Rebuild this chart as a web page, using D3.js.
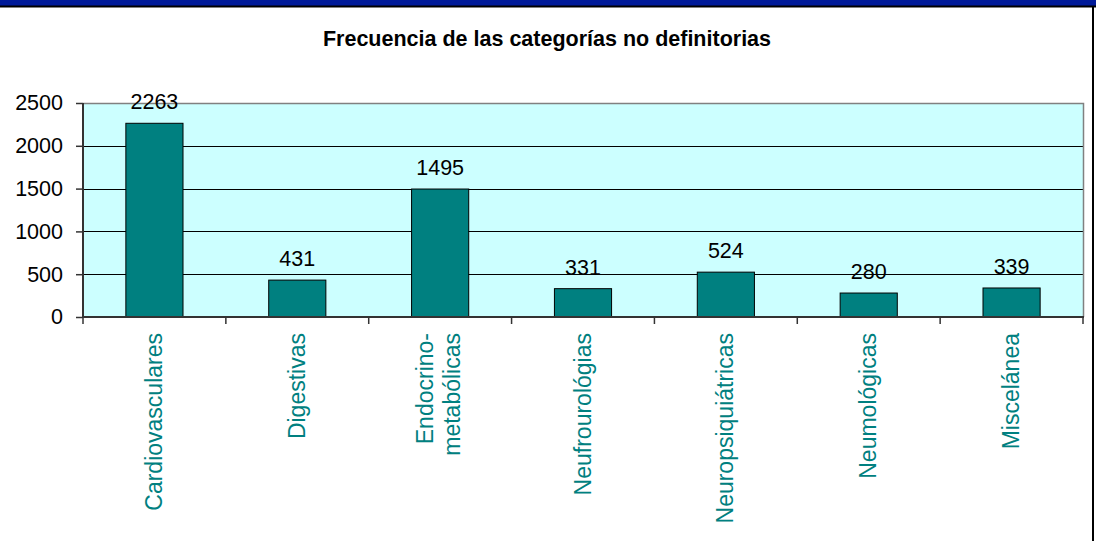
<!DOCTYPE html>
<html>
<head>
<meta charset="utf-8">
<script src="https://cdn.jsdelivr.net/npm/d3@7"></script>
<style>
  body { margin: 0; background: #fff; }
  svg { display: block; font-family: "Liberation Sans", Arial, sans-serif; }
</style>
</head>
<body>
<svg width="1096" height="541"></svg>
<script>
const categories = ["Cardiovasculares", "Digestivas", "Endocrino-\nmetabólicas", "Neufrourológias",
  "Neuropsiquiátricas", "Neumológicas", "Miscelánea"];
const values = [2263, 431, 1495, 331, 524, 280, 339];
const yTicks = [0, 500, 1000, 1500, 2000, 2500];
const title = "Frecuencia de las categorías no definitorias";

const svg = d3.select("svg");
const plot = { left: 83, right: 1083, top: 103, bottom: 317 };
const font = "'Liberation Sans', Arial, sans-serif";

// frame
svg.append("rect").attr("x", 0).attr("y", 0).attr("width", 1096).attr("height", 6).attr("fill", "#001a99");
svg.append("line").attr("x1", 0).attr("x2", 1096).attr("y1", 6.5).attr("y2", 6.5)
  .attr("stroke", "#000").attr("stroke-width", 2);
svg.append("line").attr("x1", 1093).attr("x2", 1093).attr("y1", 6).attr("y2", 541)
  .attr("stroke", "#000").attr("stroke-width", 2);

svg.append("text")
  .attr("x", 547).attr("y", 46)
  .attr("text-anchor", "middle")
  .attr("font-weight", "bold")
  .attr("font-size", 21.5)
  .text(title);

const x = d3.scaleBand()
  .domain(categories)
  .range([plot.left, plot.right])
  .paddingInner(0.6)
  .paddingOuter(0.3);

const y = d3.scaleLinear().domain([0, 2500]).range([plot.bottom, plot.top]);

svg.append("rect")
  .attr("x", plot.left).attr("y", plot.top)
  .attr("width", plot.right - plot.left).attr("height", plot.bottom - plot.top)
  .attr("fill", "#ccffff");

// gridlines
svg.append("g")
  .selectAll("line")
  .data(yTicks.filter((d) => d > 0 && d < 2500))
  .enter()
  .append("line")
  .attr("x1", plot.left).attr("x2", plot.right)
  .attr("y1", (d) => Math.round(y(d)) + 0.5).attr("y2", (d) => Math.round(y(d)) + 0.5)
  .attr("stroke", "#000");

// top & right border of plot
svg.append("path")
  .attr("d", `M${plot.left},${plot.top + 0.5}H${plot.right + 0.5}V${plot.bottom}`)
  .attr("fill", "none").attr("stroke", "#808080").attr("stroke-width", 1.5);

// bars
svg.append("g")
  .selectAll("rect")
  .data(values)
  .enter()
  .append("rect")
  .attr("x", (d, i) => x(categories[i]))
  .attr("y", (d) => y(d))
  .attr("width", x.bandwidth())
  .attr("height", (d) => plot.bottom - y(d))
  .attr("fill", "#008080")
  .attr("stroke", "#000")
  .attr("stroke-width", 1);

// value labels
svg.append("g")
  .selectAll("text")
  .data(values)
  .enter()
  .append("text")
  .attr("x", (d, i) => x(categories[i]) + x.bandwidth() / 2)
  .attr("y", (d) => y(d) - 14)
  .attr("text-anchor", "middle")
  .attr("font-size", 21.5)
  .text((d) => d);

// y axis
const yAxis = svg.append("g")
  .attr("transform", `translate(${plot.left},0)`)
  .call(d3.axisLeft(y).tickValues(yTicks).tickSize(7).tickPadding(13).tickFormat(d3.format("d")));
yAxis.selectAll("line").attr("stroke", "#333").attr("stroke-width", 1.5);
yAxis.select(".domain").attr("stroke", "#333").attr("stroke-width", 2).attr("d", `M0,${plot.top}V${plot.bottom}`);
yAxis.selectAll("text").attr("font-size", 21.5).attr("fill", "#000").attr("font-family", font);

// x axis line and boundary ticks
svg.append("line")
  .attr("x1", plot.left).attr("x2", plot.right + 1)
  .attr("y1", plot.bottom).attr("y2", plot.bottom)
  .attr("stroke", "#333").attr("stroke-width", 2);
const step = x.step();
svg.append("g")
  .selectAll("line")
  .data(d3.range(categories.length + 1))
  .enter()
  .append("line")
  .attr("x1", (i) => plot.left + i * step).attr("x2", (i) => plot.left + i * step)
  .attr("y1", plot.bottom).attr("y2", plot.bottom + 7)
  .attr("stroke", "#333").attr("stroke-width", 1.5);

// category labels
const labels = svg.append("g")
  .selectAll("text")
  .data(categories)
  .enter()
  .append("text")
  .attr("transform", (d) => `translate(${x(d) + x.bandwidth() / 2},333) rotate(-90)`)
  .attr("text-anchor", "end")
  .attr("font-size", 23)
  .attr("fill", "#008080");

labels.each(function (d) {
  const lines = d.split("\n");
  const t = d3.select(this);
  if (lines.length === 1) {
    t.append("tspan").attr("x", 0).attr("dy", "0.33em").text(d);
  } else {
    lines.forEach((line, i) => {
      t.append("tspan").attr("x", 0).attr("dy", i === 0 ? "-0.32em" : "1.17em").text(line);
    });
  }
});
</script>
</body>
</html>
